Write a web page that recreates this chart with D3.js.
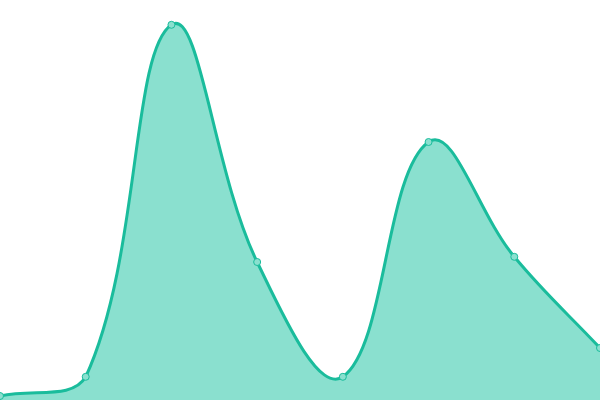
<!DOCTYPE html>
<html>
<head>
<meta charset="utf-8">
<script src="https://cdn.jsdelivr.net/npm/d3@7"></script>
<style>
  html, body { margin: 0; padding: 0; background: #fff; }
  svg { display: block; }
</style>
</head>
<body>
<svg id="chart" width="600" height="400"></svg>
<script>
const labels = ["A", "B", "C", "D", "E", "F", "G", "H"];
const values = [1, 5.8, 93.8, 34.5, 5.8, 64.5, 35.8, 13];

const svg = d3.select("#chart");
const width = +svg.attr("width");
const height = +svg.attr("height");

const x = d3.scalePoint()
    .domain(labels)
    .range([0, width]);

const y = d3.scaleLinear()
    .domain([0, 100])
    .range([height, 0]);

const data = labels.map((d, i) => ({ label: d, value: values[i] }));

// spline with distance-weighted tangents, control points kept inside the plot
const boundedSpline = (tension, x0, y0, x1, y1) => context => {
  const clamp = (v, lo, hi) => Math.max(lo, Math.min(hi, v));
  let line, pts;
  return {
    areaStart() { line = 0; },
    areaEnd() { line = NaN; },
    lineStart() { pts = []; },
    point(px, py) { pts.push([+px, +py]); },
    lineEnd() {
      const n = pts.length;
      if (n) {
        const before = [], after = [];
        pts.forEach((p, i) => {
          const prev = pts[Math.max(i - 1, 0)];
          const next = pts[Math.min(i + 1, n - 1)];
          const d01 = Math.hypot(p[0] - prev[0], p[1] - prev[1]);
          const d12 = Math.hypot(next[0] - p[0], next[1] - p[1]);
          let s01 = d01 / (d01 + d12), s12 = d12 / (d01 + d12);
          if (isNaN(s01)) s01 = 0;
          if (isNaN(s12)) s12 = 0;
          const fa = tension * s01, fb = tension * s12;
          const dx = next[0] - prev[0], dy = next[1] - prev[1];
          before.push([clamp(p[0] - fa * dx, x0, x1), clamp(p[1] - fa * dy, y0, y1)]);
          after.push([clamp(p[0] + fb * dx, x0, x1), clamp(p[1] + fb * dy, y0, y1)]);
        });
        if (line) context.lineTo(pts[0][0], pts[0][1]);
        else context.moveTo(pts[0][0], pts[0][1]);
        for (let i = 1; i < n; i++) {
          context.bezierCurveTo(after[i - 1][0], after[i - 1][1],
                                before[i][0], before[i][1],
                                pts[i][0], pts[i][1]);
        }
      }
      if (line || (line !== 0 && n === 1)) context.closePath();
      line = 1 - line;
    }
  };
};

const curve = boundedSpline(0.4, 0, 0, width, height);

const area = d3.area()
    .x(d => x(d.label))
    .y0(height)
    .y1(d => y(d.value))
    .curve(curve);

const line = d3.line()
    .x(d => x(d.label))
    .y(d => y(d.value))
    .curve(curve);

svg.append("path")
    .datum(data)
    .attr("fill", "#8ae0cf")
    .attr("d", area);

svg.append("path")
    .datum(data)
    .attr("fill", "none")
    .attr("stroke", "#1abc9c")
    .attr("stroke-width", 3)
    .attr("d", line);

svg.selectAll("circle")
    .data(data)
    .join("circle")
      .attr("cx", d => x(d.label))
      .attr("cy", d => y(d.value))
      .attr("r", 3.5)
      .attr("fill", "#8ae0cf")
      .attr("stroke", "#1abc9c")
      .attr("stroke-width", 1);
</script>
</body>
</html>
